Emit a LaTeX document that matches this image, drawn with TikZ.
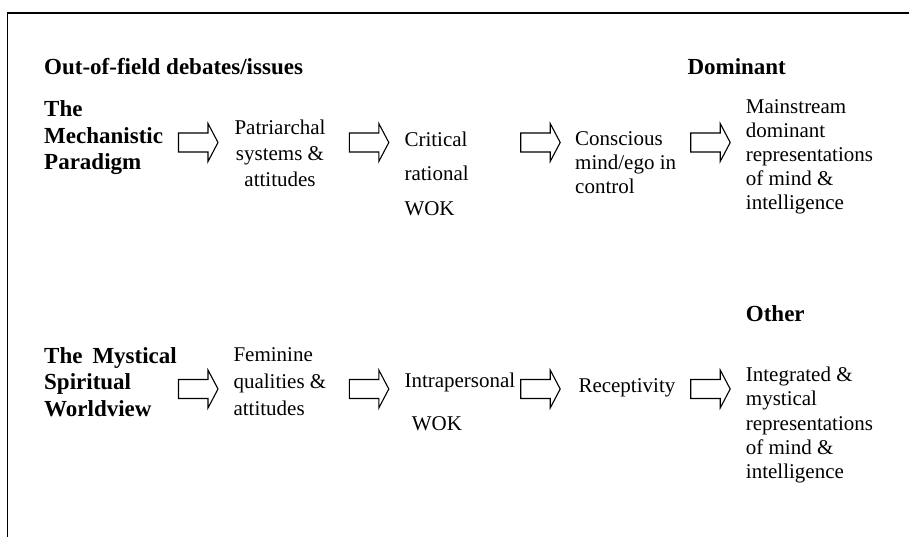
\documentclass[tikz,border=0pt]{standalone}
\usepackage{fontspec}
\setmainfont{Liberation Serif}
\begin{document}
\begin{tikzpicture}[x=1pt,y=-1pt,
  % multi-line nodes are placed by the baseline of their last line
  txt/.style={inner sep=0pt, anchor=base west, align=left,
    font=\fontsize{21}{24}\selectfont},
  hd/.style={inner sep=0pt, anchor=base west, align=left,
    font=\bfseries\fontsize{23}{26.8}\selectfont},
  frameline/.style={line width=1.5pt, line cap=rect},
  barrow/.pic={
    \draw[line width=1.1pt, line join=miter, fill=white]
      (0,-9.5) -- (29.5,-9.5) -- (29.5,-19) -- (39.5,0) -- (29.5,19)
      -- (29.5,9.5) -- (0,9.5) -- cycle;
  }]
\useasboundingbox (0,0) rectangle (909,537);

% open frame: top and left edges only
\draw[frameline] (7.5,537) -- (7.5,13) -- (909,13);

% column headings
\node[hd] (outfield) at (44,75) {Out-of-field debates/issues};
\node[hd] (dominant) at (687.3,75) {Dominant};
\node[hd] (other) at (745.7,321.7) {Other};

% upper chain
\node[hd] (mech) at (44,170) {The\\Mechanistic\\Paradigm};
\node[txt, anchor=base, align=center, font=\fontsize{21}{26}\selectfont]
  (patr) at (280,187) {Patriarchal\\systems \&\\attitudes};
\node[txt] (crit) at (404.3,215) {Critical\\[10.5pt]rational\\[10.5pt]WOK};
\node[txt] (consc) at (575,194) {Conscious\\mind/ego in\\control};
\node[txt] (main) at (745.7,209.3)
  {Mainstream\\dominant\\representations\\of mind \&\\intelligence};

% lower chain
\node[hd] (myst) at (44,416.7) {The\hspace{10pt}Mystical\\Spiritual\\Worldview};
\node[txt, font=\fontsize{21}{26.7}\selectfont] (fem) at (233.3,415.1)
  {Feminine\\qualities \&\\attitudes};
\node[txt] (intra) at (404.3,430) {Intrapersonal\\[19pt]\hspace*{7.4pt}WOK};
\node[txt] (recep) at (578.3,392.5) {Receptivity};
\node[txt, font=\fontsize{21}{24.2}\selectfont] (integ) at (745.7,478.5)
  {Integrated \&\\mystical\\representations\\of mind \&\\intelligence};

% block arrows between the stages
\coordinate (u1) at (178.5,142.5);
\coordinate (u2) at (349.3,142.5);
\coordinate (u3) at (520.7,142.5);
\coordinate (u4) at (690.7,142.5);
\coordinate (l1) at (178.5,389);
\coordinate (l2) at (349.3,389);
\coordinate (l3) at (520.7,389);
\coordinate (l4) at (690.7,389);
\foreach \c in {u1,u2,u3,u4,l1,l2,l3,l4}
  \path (\c) pic {barrow};
\end{tikzpicture}
\end{document}
